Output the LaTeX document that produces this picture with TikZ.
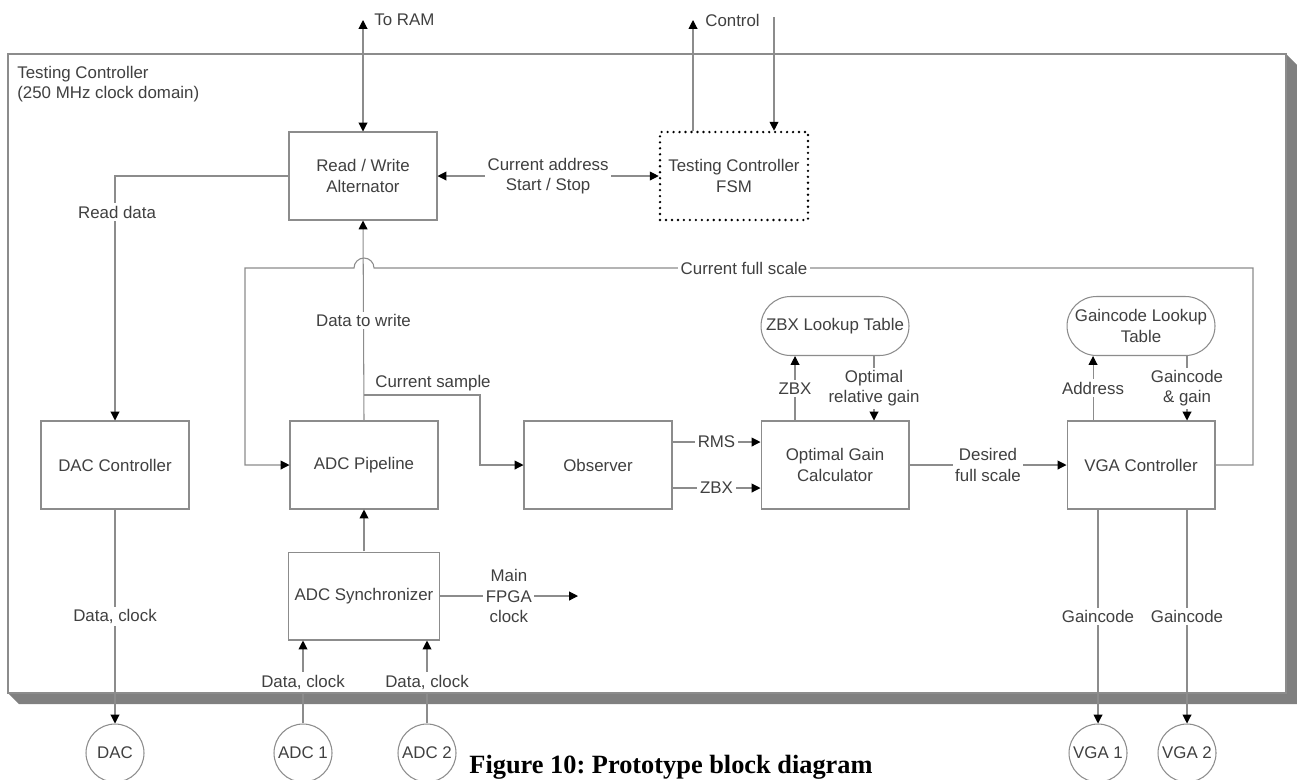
\documentclass[tikz,border=0pt]{standalone}
\usepackage{fontspec}
\setmainfont{Liberation Sans}
\newfontfamily\capfont{Liberation Serif}
\usepackage{tikz}
\usetikzlibrary{arrows.meta,calc}
\frenchspacing

\tikzset{
  block/.style={draw=black!45,line width=0.6pt,minimum width=2.96cm,minimum height=1.76cm,align=center,text=black!75},
  lut/.style={draw=black!45,line width=0.6pt,rounded corners=0.59cm,minimum width=2.96cm,minimum height=1.18cm,align=center,text=black!75,inner sep=1pt},
  port/.style={circle,draw=black!45,line width=0.6pt,minimum size=1.16cm,inner sep=0pt,text=black!75},
  wire/.style={draw=black!45,line width=0.6pt},
  arw/.style={-{Triangle[length=5pt,width=5pt,color=black]}},
  darw/.style={{Triangle[length=5pt,width=5pt,color=black]}-{Triangle[length=5pt,width=5pt,color=black]}},
  lbl/.style={fill=white,inner sep=1.5pt,align=center,text=black!75}
}

\begin{document}
\begin{tikzpicture}[x=0.02cm,y=-0.02cm,font=\fontsize{9.6}{11.5}\selectfont]
    \useasboundingbox (0,0) rectangle (1297,779);
    % Clock domain frame with its shadow
    \fill[black!50] (8,693) -- (19,704) -- (1297,704) -- (1297,65) -- (1286,54) -- cycle;
    \filldraw[fill=white,draw=black!45,line width=0.6pt] (8,54) rectangle (1286,693);
    \node[anchor=north west,align=left,text=black!75,inner sep=0pt] (domain) at (17,66) {Testing Controller\\(250 MHz clock domain)};
    % Blocks
    \node[block] (rw) at (363,176) {Read / Write\\Alternator};
    \node[block,draw=black,line width=1.5pt,line cap=round,dash pattern=on 0pt off 3.4pt] (fsm) at (734,176) {Testing Controller\\FSM};
    \node[block] (dacc) at (115,465) {DAC Controller};
    \node[block] (pipe) at (364,465) {ADC Pipeline};
    \node[block] (obs) at (598,465) {Observer};
    \node[block] (ogc) at (835,465) {Optimal Gain\\Calculator};
    \node[block] (vga) at (1141,465) {VGA Controller};
    \node[block] (sync) at (364,596) {ADC Synchronizer};
    \node[lut] (zlut) at (835,326) {ZBX Lookup Table};
    \node[lut] (glut) at (1141,326) {Gaincode Lookup\\Table};
    % External parts
    \node[port] (dac) at (115,753) {DAC};
    \node[port] (adca) at (303,753) {ADC 1};
    \node[port] (adcb) at (427,753) {ADC 2};
    \node[port] (vgaa) at (1098,753) {VGA 1};
    \node[port] (vgab) at (1187,753) {VGA 2};
    \coordinate (ram) at (363,20);
    \coordinate (ctlout) at (693,20);
    \coordinate (ctlin) at (774,17);
    \coordinate (fpga) at (578,596);
    \coordinate (tap) at (364,395);
    % Top connections
    \draw[wire,darw] (ram) -- (rw.north);
    \node[anchor=west,text=black!75,inner sep=0pt] (ramlbl) at (374,20) {To RAM};
    \draw[wire,arw] (fsm.north -| ctlout) -- (ctlout);
    \draw[wire,arw] (ctlin) -- (fsm.north -| ctlin);
    \node[anchor=west,text=black!75,inner sep=0pt] (ctllbl) at (705,20) {Control};
    \draw[wire,darw] (rw.east) -- node[lbl] {Current address\\Start / Stop} (fsm.west);
    \draw[wire,arw] (rw.west) -| (dacc.north);
    \node[lbl] (rdlbl) at (117,212) {Read data};
    % Feedback of the full scale
    \draw[wire,arw] (vga.east) -- (1253,465) -- (1253,268) -- (374,268)
      arc[start angle=0,end angle=180,radius=0.2cm] -- (245,268) |- (pipe.west);
    \node[lbl] (cfslbl) at (744,268) {Current full scale};
    % Sample path
    \draw[wire,arw] (pipe.north) -- node[lbl] {Data to write} (rw.south);
    \draw[wire,arw] (tap) -- (480,395) |- (obs.west);
    \node[text=black!75,inner sep=0pt] (cslbl) at (433,383) {Current sample};
    \draw[wire,arw] ([yshift=0.46cm]obs.east) -- node[lbl] {RMS} ([yshift=0.46cm]ogc.west);
    \draw[wire,arw] ([yshift=-0.46cm]obs.east) -- node[lbl] {ZBX} ([yshift=-0.46cm]ogc.west);
    \draw[wire,arw] ([xshift=-0.8cm]ogc.north) -- node[lbl] {ZBX} ([xshift=-0.8cm]zlut.south);
    \draw[wire,arw] ([xshift=0.78cm]zlut.south) -- node[lbl] {Optimal\\relative gain} ([xshift=0.78cm]ogc.north);
    \draw[wire,arw] (ogc.east) -- node[lbl] {Desired\\full scale} (vga.west);
    \draw[wire,arw] ([xshift=-0.96cm]vga.north) -- node[lbl] {Address} ([xshift=-0.96cm]glut.south);
    \draw[wire,arw] ([xshift=0.92cm]glut.south) -- node[lbl] {Gaincode\\\& gain} ([xshift=0.92cm]vga.north);
    % ADC side
    \draw[wire,arw] (sync.north) -- (pipe.south);
    \draw[wire,arw] (sync.east) -- node[lbl] {Main\\FPGA\\clock} (fpga);
    \draw[wire,arw] (adca.north) -- node[lbl,pos=0.5] {Data, clock} (adca.north |- sync.south);
    \draw[wire,arw] (adcb.north) -- node[lbl,pos=0.5] {Data, clock} (adcb.north |- sync.south);
    % Outputs
    \draw[wire,arw] (dacc.south) -- node[lbl,pos=0.5] {Data, clock} (dac.north);
    \draw[wire,arw] (vga.south -| vgaa.north) -- node[lbl,pos=0.5] {Gaincode} (vgaa.north);
    \draw[wire,arw] (vga.south -| vgab.north) -- node[lbl,pos=0.5] {Gaincode} (vgab.north);
    % Caption
    \node[font=\capfont\bfseries\fontsize{15}{18}\selectfont] (cap) at (671,767) {Figure 10: Prototype block diagram};
\end{tikzpicture}
\end{document}
